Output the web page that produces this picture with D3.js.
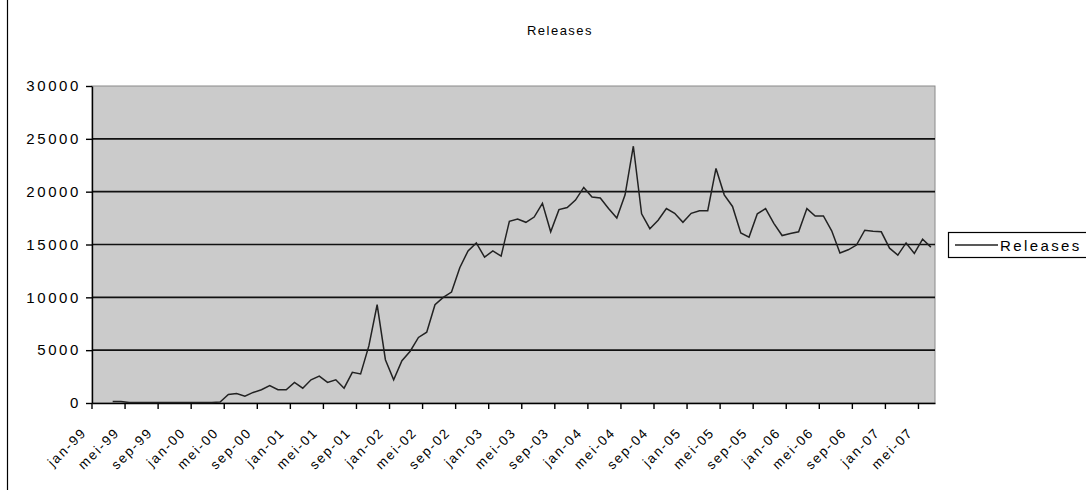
<!DOCTYPE html>
<html>
<head>
<meta charset="utf-8">
<script src="https://cdn.jsdelivr.net/npm/d3@7"></script>
<style>
  body { margin: 0; background: #fff; }
  text { font-family: Arial, "Liberation Sans", sans-serif; fill: #000; }
</style>
</head>
<body>
<svg id="chart" width="1086" height="490"></svg>
<script>
var width = 1086
var height = 490
var margin = {top: 86, right: 151, bottom: 87, left: 92}

// month names (Dutch) and years used for the category labels
var monthNames = ['jan', 'feb', 'mrt', 'apr', 'mei', 'jun', 'jul', 'aug', 'sep', 'okt', 'nov', 'dec']
var years = ['99', '00', '01', '02', '03', '04', '05', '06', '07']

// releases per month, jan-99 .. jun-07 (null = no value)
var releases = [
  null, null, 150, 150, 40, 40, 40, 40, 40, 40, 40, 40,
  40, 40, 40, 100, 800, 900, 650, 1000, 1250, 1650, 1250, 1250,
  1950, 1400, 2200, 2550, 1950, 2200, 1400, 2900, 2750, 5400, 9300, 4100,
  2200, 4000, 4900, 6200, 6700, 9300, 10000, 10500, 12800, 14400, 15150, 13800,
  14400, 13900, 17200, 17400, 17100, 17600, 18900, 16200, 18300, 18500, 19200, 20400,
  19500, 19400, 18400, 17500, 19700, 24300, 17900, 16500, 17300, 18400, 17950, 17100,
  17950, 18200, 18200, 22200, 19700, 18600, 16100, 15700, 17900, 18400, 17000, 15850,
  16050, 16200, 18400, 17700, 17700, 16300, 14200, 14500, 14950, 16350, 16250, 16200,
  14650, 14000, 15150, 14150, 15500, 14750
]

var yTicks = [0, 5000, 10000, 15000, 20000, 25000, 30000]
var seriesName = 'Releases'
var title = 'Releases'

var months = []
years.forEach(function(y) {
  monthNames.forEach(function(m) {
    months.push(m + '-' + y)
  })
})
months = months.slice(0, releases.length)

var svg = d3.select('#chart')

// chart area border (only the left edge is in view)
svg.append('line')
  .attr('x1', 7.5)
  .attr('x2', 7.5)
  .attr('y1', 0)
  .attr('y2', height)
  .style('stroke', '#000')
  .style('stroke-width', 1.2)

var xScale = d3.scaleBand()
  .domain(months)
  .range([margin.left, width - margin.right])

var bw = xScale.bandwidth()

var yScale = d3.scaleLinear()
  .domain([0, 30000])
  .range([height - margin.bottom, margin.top])

// plot area
svg.append('rect')
  .attr('x', margin.left)
  .attr('y', margin.top)
  .attr('width', width - margin.right - margin.left)
  .attr('height', height - margin.bottom - margin.top)
  .style('fill', '#cbcbcb')
  .style('stroke', '#8a8a8a')
  .style('stroke-width', 1)

// gridlines
svg.append('g')
  .attr('class', 'grid')
  .selectAll('line')
  .data(yTicks.filter(d => d > 0 && d < 30000))
  .enter()
  .append('line')
  .attr('x1', margin.left)
  .attr('x2', width - margin.right)
  .attr('y1', d => yScale(d))
  .attr('y2', d => yScale(d))
  .style('stroke', '#111')
  .style('stroke-width', 1.6)

// Y axis
var yAxis = d3.axisLeft(yScale)
  .tickValues(yTicks)
  .tickFormat(d3.format('d'))
  .tickSize(6)
  .tickSizeOuter(0)
  .tickPadding(5)

svg.append('g')
  .attr('transform', `translate(${margin.left},0)`)
  .attr('class', 'y-axis')
  .call(yAxis)
  .call(g => g.selectAll('path, line').style('stroke', '#000').style('stroke-width', 1.4))
  .selectAll('text')
  .style('font-size', '15px')
  .style('letter-spacing', '2.6px')

// X axis, ticks between categories every 4 months
var xAxis = d3.axisBottom(xScale)
  .tickValues(months.filter((d, i) => i % 4 === 0))
  .tickSize(6)
  .tickSizeOuter(0)

var xg = svg.append('g')
  .attr('transform', `translate(0,${height - margin.bottom})`)
  .attr('class', 'x-axis')
  .call(xAxis)

xg.selectAll('path, line')
  .style('stroke', '#000')
  .style('stroke-width', 1.4)

xg.selectAll('.tick line')
  .attr('x1', -bw / 2)
  .attr('x2', -bw / 2)

xg.selectAll('.tick text')
  .attr('x', 0)
  .attr('y', 0)
  .attr('dy', '0.35em')
  .attr('transform', `translate(${-bw / 2 - 8},27) rotate(-45)`)
  .style('text-anchor', 'end')
  .style('font-size', '13.5px')
  .style('letter-spacing', '1.8px')

// line
var lineDraw = d3.line()
  .defined(d => d != null)
  .x((d, i) => xScale(months[i]) + bw / 2)
  .y(d => yScale(d))

svg.append('path')
  .datum(releases)
  .attr('d', lineDraw)
  .style('fill', 'none')
  .style('stroke', '#222')
  .style('stroke-width', 1.5)

// title
svg.append('text')
  .attr('x', 560)
  .attr('y', 35)
  .style('text-anchor', 'middle')
  .style('font-size', '13px')
  .style('letter-spacing', '1.5px')
  .text(title)

// legend
var legend = svg.append('g')
  .attr('transform', 'translate(948,232)')

legend.append('rect')
  .attr('x', 0.5)
  .attr('y', 0.5)
  .attr('width', 160)
  .attr('height', 25)
  .style('fill', '#fff')
  .style('stroke', '#000')
  .style('stroke-width', 1.2)

legend.append('line')
  .attr('x1', 7)
  .attr('x2', 50)
  .attr('y1', 13)
  .attr('y2', 13)
  .style('stroke', '#222')
  .style('stroke-width', 1.5)

legend.append('text')
  .attr('x', 52)
  .attr('y', 18.5)
  .style('font-size', '15px')
  .style('letter-spacing', '2.4px')
  .text(seriesName)
</script>
</body>
</html>
